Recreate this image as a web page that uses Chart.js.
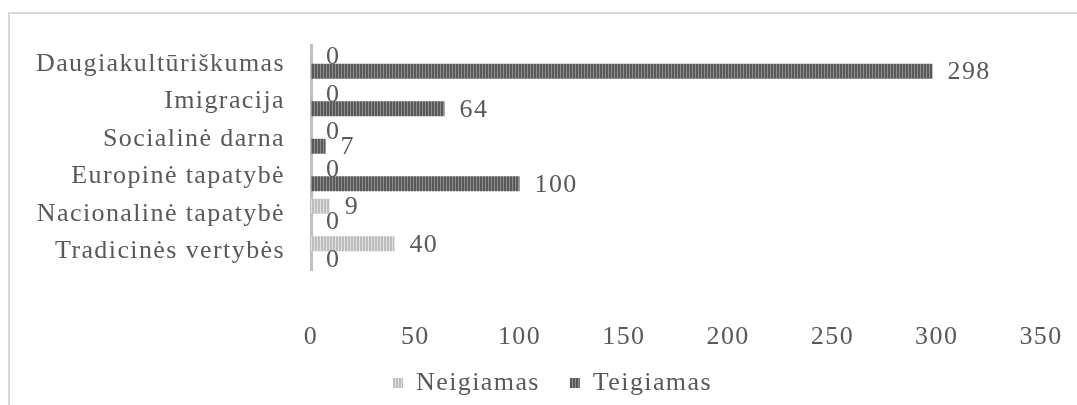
<!DOCTYPE html>
<html>
<head>
<meta charset="utf-8">
<script src="https://cdn.jsdelivr.net/npm/chart.js@4.4.1/dist/chart.umd.min.js"></script>
<style>
  html, body { margin: 0; padding: 0; background: #fff; }
  #wrap { position: absolute; left: 0; top: 0; width: 1077px; height: 405px; }
  #frame { position: absolute; left: 8px; top: 12px; width: 1069px; height: 393px;
           border-top: 2px solid #d9d9d9; border-left: 2px solid #d9d9d9; box-sizing: border-box; }
  canvas { position: absolute; left: 0; top: 0; }
</style>
</head>
<body>
<div id="wrap">
  <div id="frame"></div>
  <canvas id="c" width="1077" height="405"></canvas>
</div>
<script>
const categories = ["Daugiakultūriškumas", "Imigracija", "Socialinė darna", "Europinė tapatybė", "Nacionalinė tapatybė", "Tradicinės vertybės"];
const seriesNames = ["Neigiamas", "Teigiamas"];
const neigiamas = [0, 0, 0, 0, 9, 40];
const teigiamas = [298, 64, 7, 100, 0, 0];
const xTicks = [0, 50, 100, 150, 200, 250, 300, 350];

function stripePattern(dark, light) {
  const p = document.createElement('canvas');
  p.width = 3; p.height = 4;
  const g = p.getContext('2d');
  g.fillStyle = dark; g.fillRect(0, 0, 3, 4);
  g.fillStyle = light; g.fillRect(2, 0, 1, 4);
  return g.createPattern(p, 'repeat');
}

const ctx = document.getElementById('c').getContext('2d');
const patNeg = stripePattern('#bdbdbd', '#e0e0e0');
const patPos = stripePattern('#595959', '#8e8e8e');

const FONT = "'Liberation Serif', 'Times New Roman', serif";
const TXT = '#595959';
const FS = 26;
const LS = '1.4px';
const PAD_LEFT = 10;

const spacing = {
  id: 'spacing',
  beforeLayout(chart) { chart.ctx.letterSpacing = LS; },
  beforeDraw(chart) { chart.ctx.letterSpacing = LS; }
};

const legendPlace = {
  id: 'legendPlace',
  afterLayout(chart) {
    const lg = chart.legend;
    if (!lg) return;
    lg.left += 27; lg.right += 27;
    lg.top = 340; lg.bottom = 405; lg.height = 65;
  }
};

const valueLabels = {
  id: 'valueLabels',
  afterDatasetsDraw(chart) {
    const c = chart.ctx;
    c.save();
    c.letterSpacing = LS;
    c.font = FS + 'px ' + FONT;
    c.fillStyle = TXT;
    c.textAlign = 'left';
    c.textBaseline = 'middle';
    chart.data.datasets.forEach((ds, di) => {
      const meta = chart.getDatasetMeta(di);
      meta.data.forEach((el, i) => {
        c.fillText(String(ds.data[i]), el.x + 15, el.y + 1);
      });
    });
    c.restore();
  }
};

new Chart(ctx, {
  type: 'bar',
  data: {
    labels: categories,
    datasets: [
      { label: seriesNames[0], data: neigiamas, backgroundColor: patNeg, borderWidth: 0,
        categoryPercentage: 0.8, barPercentage: 1.0 },
      { label: seriesNames[1], data: teigiamas, backgroundColor: patPos, borderWidth: 0,
        categoryPercentage: 0.8, barPercentage: 1.0 }
    ]
  },
  options: {
    indexAxis: 'y',
    responsive: false,
    animation: false,
    devicePixelRatio: 1,
    layout: { padding: { top: 45, right: 36, left: PAD_LEFT, bottom: 0 } },
    scales: {
      x: {
        min: 0, max: 350,
        afterBuildTicks(scale) { scale.ticks = xTicks.map(v => ({ value: v })); },
        grid: { display: false, drawTicks: true, tickLength: 52 },
        border: { display: false },
        ticks: { color: TXT, font: { family: FONT, size: FS }, padding: 0 },
        afterFit(scale) { scale.height = 89; }
      },
      y: {
        grid: { display: false, drawTicks: false },
        border: { display: true, color: '#bfbfbf', width: 3 },
        ticks: { color: TXT, font: { family: FONT, size: FS }, padding: 26, autoSkip: false },
        afterFit(scale) { scale.width = 311 - PAD_LEFT; }
      }
    },
    plugins: {
      legend: {
        position: 'bottom',
        maxHeight: 46,
        labels: { color: TXT, font: { family: FONT, size: FS }, boxWidth: 10, boxHeight: 10, padding: 30 }
      },
      tooltip: { enabled: false }
    }
  },
  plugins: [spacing, legendPlace, valueLabels]
});
</script>
</body>
</html>
